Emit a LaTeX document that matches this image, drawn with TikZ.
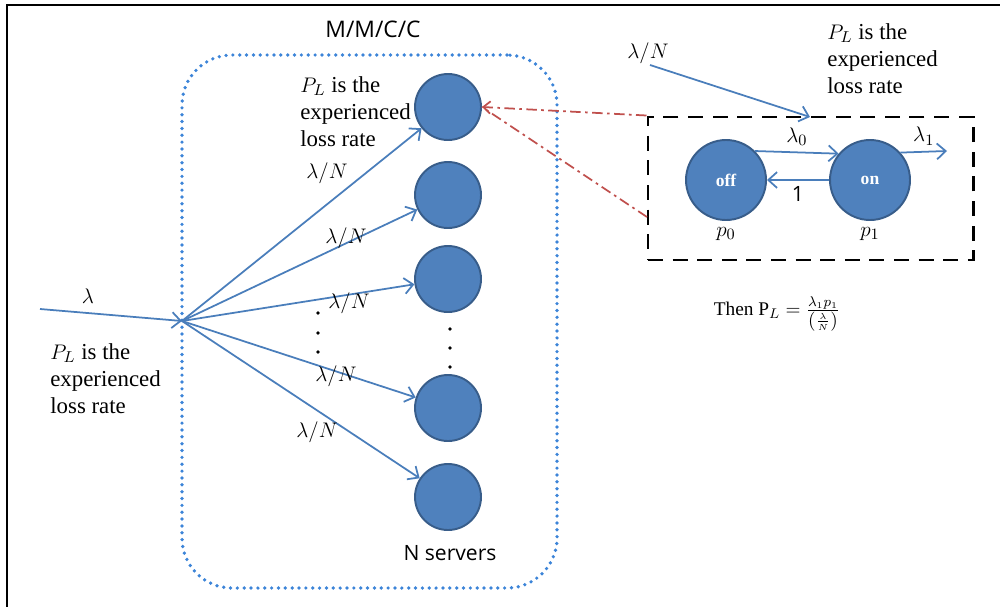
\documentclass[tikz,border=0pt]{standalone}
\usepackage{amsmath,amssymb}
\usepackage{fontspec}
\setmainfont{Liberation Serif}
\setsansfont{Open Sans}
\usetikzlibrary{arrows.meta, positioning}
\definecolor{srvfill}{HTML}{4F81BD}
\definecolor{srvedge}{HTML}{385D8A}
\definecolor{flowblue}{HTML}{4A7EBB}
\definecolor{dotblue}{RGB}{60,132,216}
\definecolor{zoomred}{HTML}{C0504D}

\begin{document}
\begin{tikzpicture}[x=0.2mm, y=-0.2mm,
    every node/.style={font=\fontsize{13}{15.5}\selectfont},
    server/.style={circle, fill=srvfill, draw=srvedge, line width=1.1pt, minimum size=13.2mm, inner sep=0pt},
    state/.style={server, minimum size=16mm, text=white, font=\fontsize{10}{12}\selectfont\bfseries},
    flow/.style={draw=flowblue, line width=1pt, -{Straight Barb[length=5pt,width=9pt]}},
    servbox/.style={draw=dotblue, line width=2.1pt, dash pattern=on 0pt off 3.9pt, line cap=round, rounded corners=10mm, minimum width=75mm, minimum height=106.6mm},
    zoomline/.style={draw=zoomred, line width=1pt, dash pattern=on 6pt off 2.5pt on 1.5pt off 2.5pt},
    zoombox/.style={draw, line width=1.7pt, dash pattern=on 8.5pt off 5.5pt, minimum width=65mm, minimum height=28.6mm},
    lossnote/.style={align=left, inner sep=0pt, anchor=north west},
    sanslabel/.style={font=\sffamily\fontsize{13}{15}\selectfont}]
    \useasboundingbox (0,0) rectangle (1000,607);
    \draw[line width=1.7pt] (7,607) -- (7,5) -- (1000,5);

    \node[servbox] (pool) at (369.5,321.5) {};
    \node[sanslabel] (mmcc) at (373,29) {M/M/C/C};

    \node[server] (s1) at (448,107) {};
    \node[server] (s2) at (448,195) {};
    \node[server] (s3) at (448,279) {};
    \node[server] (s4) at (448,408) {};
    \node[server] (s5) at (448,497) {};
    \node[sanslabel, font=\sffamily\fontsize{12}{14}\selectfont] (nserv) at (450,553) {N servers};

    \fill (450,329) circle (1.1pt);
    \fill (450,348) circle (1.1pt);
    \fill (450,367) circle (1.1pt);
    \fill (318,313) circle (1.1pt);
    \fill (318,333) circle (1.1pt);
    \fill (318,352) circle (1.1pt);

    \coordinate (src) at (40,309);
    \coordinate (hub) at (182,321);
    \draw[flow] (src) -- (hub);
    \node (lam) at (88,296) {$\lambda$};
    \draw[flow] (hub) -- (s1);
    \draw[flow] (hub) -- (s2);
    \draw[flow] (hub) -- (s3);
    \draw[flow] (hub) -- (s4);
    \draw[flow] (hub) -- (s5);
    \node (r1) at (327,173) {$\lambda/N$};
    \node (r2) at (346,238) {$\lambda/N$};
    \node (r3) at (349,303) {$\lambda/N$};
    \node (r4) at (336,376) {$\lambda/N$};
    \node (r5) at (317,432) {$\lambda/N$};

    \node[lossnote] (loss1) at (50,343) {$P_L$ is the\\experienced\\loss rate};
    \node[lossnote] (loss2) at (300,76) {$P_L$ is the\\experienced\\loss rate};
    \node[lossnote] (loss3) at (827,23) {$P_L$ is the\\experienced\\loss rate};

    \node[zoombox] (box) at (810.5,188.5) {};
    \coordinate (tap) at (647,217);
    \draw[zoomline, -{Straight Barb[length=4pt,width=7pt]}] (box.north west) -- (s1.east);
    \draw[zoomline] (tap) -- (s1.east);

    \node[state] (off) at (726,180) {off};
    \node[state] (on) at (870,180) {on};
    \draw[flow] (off.45) to node[above] {$\lambda_0$} (on.140);
    \draw[flow] (on.west) to node[below, sanslabel, font=\sffamily\fontsize{12}{14}\selectfont] {1} (off.east);
    \coordinate (drop) at (947,151);
    \draw[flow] (on.42) to node[above] {$\lambda_1$} (drop);
    \node[below=0pt of off] (p0) {$p_0$};
    \node[below=0pt of on] (p1) {$p_1$};

    \coordinate (qin) at (650,65);
    \coordinate (qtip) at (810,117);
    \draw[flow] (qin) -- (qtip);
    \node (qlab) at (648,53) {$\lambda/N$};

    \node[font=\fontsize{11}{13}\selectfont] (then) at (777,314) {Then $\mathrm{P}_L = \frac{\lambda_1 p_1}{\left(\frac{\lambda}{N}\right)}$};
\end{tikzpicture}
\end{document}
